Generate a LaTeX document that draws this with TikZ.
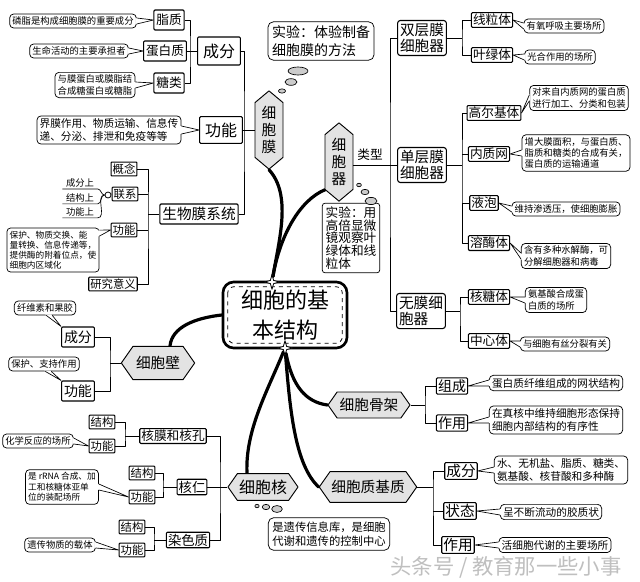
\documentclass[tikz,border=0pt]{standalone}
\usepackage{fontspec}
\setmainfont{Noto Sans CJK SC}
\usetikzlibrary{shapes.symbols,shapes.geometric,calc}
\pgfdeclarelayer{bg}
\pgfsetlayers{bg,main}
\newcommand\fsS{\fontsize{7}{8.4}\selectfont}
\newcommand\fsM{\fontsize{8}{9.6}\selectfont}
\newcommand\fsK{\fontsize{8.5}{10}\selectfont}
\newcommand\fsB{\fontsize{9.5}{11}\selectfont}
\newcommand\fsC{\fontsize{10.5}{12}\selectfont}
\newcommand\fsL{\fontsize{11}{12.8}\selectfont}
\newcommand\fsX{\fontsize{12}{14}\selectfont}
\newcommand\fsT{\fontsize{16.5}{22}\selectfont}
\newcommand{\calltail}[3]{%
  \path ($(#1)!1pt!180:(#3)$) coordinate (pI);
  \fill[white] ($(pI)+(#2)$) -- (#3) -- ($(pI)-(#2)$) -- cycle;
  \draw[line width=0.5pt,line join=round] ($(#1)+(#2)$) -- (#3) -- ($(#1)-(#2)$);}
\tikzset{
  box/.style={draw, line width=0.8pt, fill=white, inner sep=1.8pt, rounded corners=0.8pt, align=center, font=\fsB, minimum height=15pt},
  rbox/.style={box, inner sep=1.2pt, minimum height=0pt},
  sbox/.style={draw, line width=0.8pt, fill=white, inner sep=1.2pt, rounded corners=0.6pt, align=center, font=\fsK},
  cal/.style={draw, line width=0.55pt, fill=white, rounded corners=3pt, inner sep=2pt, align=left, font=\fsS},
  hexh/.style={shape=signal, signal to=west and east, signal pointer angle=110, draw, line width=0.7pt, fill=gray!22, inner sep=1pt, font=\fsL},
  hexv/.style={shape=signal, signal to=north and south, signal pointer angle=100, draw, line width=0.7pt, fill=gray!22, inner sep=1pt, align=center, font=\fsL},
  brk/.style={line width=0.7pt},
  trunk/.style={line width=2.4pt, line cap=round},
  bub/.style={draw, line width=0.5pt, fill=gray!40},
  uline/.style={line width=0.5pt},
}
\begin{document}
\begin{tikzpicture}[x=0.75pt,y=-0.75pt,line join=round]
\useasboundingbox (0,0) rectangle (640,582);

% ---------- cell membrane ----------
\node[cal] (lipc) at (73,21) {磷脂是构成细胞膜的重要成分};
\node[box] (lip) at (169,20) {脂质};
\node[cal] (prc) at (79,51) {生命活动的主要承担者};
\node[box] (pro) at (165,51) {蛋白质};
\node[cal] (sugc) at (95,85) {与膜蛋白或膜脂结\\合成糖蛋白或糖脂};
\node[box] (sug) at (169,83) {糖类};
\node[box, font=\fsX, minimum width=32pt, minimum height=21pt] (mcomp) at (219,51) {成分};
\node[box, font=\fsX, minimum width=32pt, minimum height=20pt] (mfunc) at (221,130) {功能};
\node[cal, font=\fsM] (mfc) at (109,130) {界膜作用、物质运输、信息传\\递、分泌、排泄和免疫等等};
\node[hexv, font=\fontsize{11}{13}\selectfont, minimum width=21pt, minimum height=52pt] (mem) at (269,130) {细\\胞\\膜};
\node[box, font=\fsL] (bms) at (199,214) {生物膜系统};
\node[sbox] (gn) at (124,169) {概念};
\node[sbox] (lx) at (125,194) {联系};
\node[sbox] (gfn) at (124,230) {功能};
\node[cal, font=\fontsize{6.5}{7.6}\selectfont, rounded corners=2.5pt] (gfc) at (53,250) {保护、物质交换、能\\量转换、信息传递等，\\提供酶的附着位点，使\\细胞内区域化};
\node[sbox] (yj) at (113,284) {研究意义};
\node[circle, draw, line width=0.6pt, fill=white, inner sep=0pt, minimum size=4.5pt] (lxc) at (108,195) {};
\node[font=\fsS, inner sep=1pt, minimum width=26pt] (ca) at (80,183) {成分上};
\node[font=\fsS, inner sep=1pt, minimum width=26pt] (cb) at (80,198) {结构上};
\node[font=\fsS, inner sep=1pt, minimum width=26pt] (cc) at (80,212) {功能上};

% experiment 1
\node[cal, font=\fontsize{10.5}{13}\selectfont, rounded corners=4pt, inner sep=3pt] (exp1) at (321,41) {实验：体验制备\\细胞膜的方法};
\draw[bub] (298,71) ellipse [x radius=7.5pt, y radius=3pt];
\draw[bub] (291,82) ellipse [x radius=4.5pt, y radius=2.5pt];
\draw[bub] (282,91) ellipse [x radius=2.7pt, y radius=1.6pt];

% ---------- organelles ----------
\node[hexv, font=\fontsize{11}{13}\selectfont, minimum width=21pt, minimum height=52pt] (org) at (339,162) {细\\胞\\器};
\node[font=\fsB] (lt) at (370,155) {类型};
\node[cal, font=\fontsize{9.5}{9.6}\selectfont, rounded corners=2pt, inner sep=2.5pt] (exp2) at (351,238) {实验：用\\高倍显微\\镜观察叶\\绿体和线\\粒体};
\draw[bub] (371,201) ellipse [x radius=4.5pt, y radius=2.7pt];
\draw[bub] (365,192) ellipse [x radius=3pt, y radius=2pt];
\draw[bub] (359,185) ellipse [x radius=1.8pt, y radius=1.3pt];

\node[box, font=\fontsize{11}{12.5}\selectfont, rounded corners=2pt] (dbl) at (422,38) {双层膜\\细胞器};
\node[box, font=\fontsize{11}{12.5}\selectfont, rounded corners=2pt] (sgl) at (422,165) {单层膜\\细胞器};
\node[box, font=\fontsize{11}{12.5}\selectfont, rounded corners=2pt, align=left] (nom) at (421,311) {无膜细\\胞器};

\node[rbox] (mito) at (492,20) {线粒体};
\node[rbox] (chlo) at (492,55) {叶绿体};
\node[cal] (mitoc) at (564,26) {有氧呼吸主要场所};
\node[cal] (chloc) at (560,57) {光合作用的场所};

\node[rbox] (golgi) at (494,113) {高尔基体};
\node[rbox] (er) at (489,154) {内质网};
\node[rbox] (vac) at (484,203) {液泡};
\node[rbox] (lyso) at (489,243) {溶酶体};
\node[cal] (golgic) at (579,98) {对来自内质网的蛋白质\\进行加工、分类和包装};
\node[cal] (erc) at (576,153) {增大膜面积，与蛋白质、\\脂质和糖类的合成有关，\\蛋白质的运输通道};
\node[cal] (vacc) at (566,209) {维持渗透压，使细胞膨胀};
\node[cal] (lysoc) at (566,256) {含有多种水解酶，可\\分解细胞器和病毒};

\node[rbox] (ribo) at (489,297) {核糖体};
\node[rbox] (cent) at (489,341) {中心体};
\node[cal] (riboc) at (556,300) {氨基酸合成蛋\\白质的场所};
\node[cal] (centc) at (565,344) {与细胞有丝分裂有关};

% ---------- centre ----------
\node[draw, line width=2pt, rounded corners=8pt, fill=white, minimum width=93pt, minimum height=49.5pt, align=center, font=\fsT] (cen) at (285,315) {细胞的基\\本结构};
\draw[dashed, line width=0.6pt, rounded corners=5pt] ($(cen.north west)+(6,6)$) rectangle ($(cen.south east)+(-6,-6)$);
\node[star, star points=4, star point ratio=3.2, draw, line width=0.6pt, fill=white, inner sep=0pt, minimum size=11pt] (st1) at (272,282) {};
\node[star, star points=4, star point ratio=3.2, draw, line width=0.6pt, fill=white, inner sep=0pt, minimum size=11pt] (st2) at (285,348) {};

% ---------- cell wall ----------
\node[hexh, minimum width=55pt, minimum height=25pt] (wall) at (158,363) {细胞壁};
\node[box, font=\fsC] (wc) at (78,337) {成分};
\node[box, font=\fsC] (wf) at (78,391) {功能};
\node[cal] (wcc) at (45,308) {纤维素和果胶};
\node[cal] (wfc) at (44,364) {保护、支持作用};

% ---------- cytoskeleton ----------
\node[hexh, minimum width=61.5pt, minimum height=19.5pt] (csk) at (369,405) {细胞骨架};
\node[rbox, font=\fsC] (ck1) at (452,386) {组成};
\node[rbox, font=\fsC] (ck2) at (452,423) {作用};
\node[cal, font=\fsM] (ck1c) at (556,383) {蛋白质纤维组成的网状结构};
\node[cal, font=\fsM] (ck2c) at (556,420) {在真核中维持细胞形态保持\\细胞内部结构的有序性};

% ---------- cytoplasmic matrix ----------
\node[hexh, minimum width=73pt, minimum height=23pt] (mat) at (368,487) {细胞质基质};
\node[rbox, font=\fsL] (m1) at (461,471) {成分};
\node[rbox, font=\fsL] (m2) at (460,511) {状态};
\node[rbox, font=\fsL] (m3) at (458,545) {作用};
\node[cal, font=\fsM] (m1c) at (561,470) {水、无机盐、脂质、糖类、\\氨基酸、核苷酸和多种酶};
\node[cal, font=\fsM] (m2c) at (551,512) {呈不断流动的胶质状};
\node[cal, font=\fsM] (m3c) at (555,545) {活细胞代谢的主要场所};

% ---------- nucleus ----------
\node[hexh, minimum width=52.5pt, minimum height=20pt, font=\fsX] (nuc) at (263,487) {细胞核};
\draw[bub] (257,506) ellipse [x radius=1.6pt, y radius=1.3pt];
\draw[bub] (266,507) ellipse [x radius=2.8pt, y radius=2pt];
\draw[bub] (277,509) ellipse [x radius=4pt, y radius=2.6pt];
\node[cal, font=\fontsize{8.5}{10.5}\selectfont, rounded corners=4pt, inner sep=3pt] (nucc) at (329,534) {是遗传信息库，是细胞\\代谢和遗传的控制中心};
\node[rbox] (nm) at (173,436) {核膜和核孔};
\node[rbox, font=\fontsize{10}{12}\selectfont] (nl) at (192,487) {核仁};
\node[rbox, font=\fontsize{10}{12}\selectfont] (cr) at (188,540) {染色质};
\node[sbox] (nm1) at (102,422) {结构};
\node[sbox] (nm2) at (102,446) {功能};
\node[sbox] (nl1) at (142,473) {结构};
\node[sbox] (nl2) at (142,497) {功能};
\node[sbox] (cr1) at (132,527) {结构};
\node[sbox] (cr2) at (132,550) {功能};
\node[cal] (nmc) at (38,441) {化学反应的场所};
\node[cal, font=\fontsize{6.5}{8}\selectfont] (nlc) at (62,487) {是 rRNA 合成、加\\工和核糖体亚单\\位的装配场所};
\node[cal] (crc) at (60,545) {遗传物质的载体};

% watermark
\node[font=\fontsize{16}{18}\selectfont, text=gray!50, inner sep=0pt] (wm) at (506,567) {头条号 / 教育那一些小事};

% ---------- brackets ----------
\coordinate (s1) at (190,51);
\draw[brk] (lip.east) -| (s1) |- (sug.east);
\draw[brk] (pro.east) -- (mcomp.west);
\coordinate (s2) at (244,130);
\draw[brk] (mcomp.east) -| (s2) |- (bms.east);
\draw[brk] (mfunc.east) -- (mem.west);
\coordinate (s3) at (148,214);
\draw[brk] (gn.east) -| (s3) |- (yj.east);
\draw[brk] (s3) -- (bms.west);
\draw[brk] (lx.east) -- (lx.east -| s3);
\draw[brk] (gfn.east) -- (gfn.east -| s3);
\draw[brk] (lxc) -- (lx.west);
\draw[uline] (ca.south west) -- (ca.south east) to[out=0,in=180] (lxc.west);
\draw[uline] (cb.south west) -- (cb.south east) to[out=0,in=180] (lxc.west);
\draw[uline] (cc.south west) -- (cc.south east) to[out=0,in=180] (lxc.west);

\coordinate (s4) at (390,165);
\draw[brk] (dbl.west) -| (s4) |- (nom.west);
\draw[brk] (org.east |- sgl.west) -- (sgl.west);
\coordinate (s5) at (462,38);
\draw[brk] (mito.west) -| (s5) |- (chlo.west);
\draw[brk] (dbl.east) -- (s5);
\coordinate (s6) at (462,165);
\draw[brk] (golgi.west) -| (s6) |- (lyso.west);
\draw[brk] (sgl.east) -- (s6);
\draw[brk] (er.west) -- (er.west -| s6);
\draw[brk] (vac.west) -- (vac.west -| s6);
\coordinate (s7) at (460,311);
\draw[brk] (ribo.west) -| (s7) |- (cent.west);
\draw[brk] (nom.east) -- (s7);

\coordinate (s8) at (110,363);
\draw[brk] (wc.east) -| (s8) |- (wf.east);
\draw[brk] (s8) -- (wall.west);
\coordinate (s9) at (425,405);
\draw[brk] (ck1.west) -| (s9) |- (ck2.west);
\draw[brk] (csk.east) -- (s9);
\coordinate (s10) at (433,487);
\draw[brk] (m1.west) -| (s10) |- (m3.west);
\draw[brk] (mat.east) -- (s10);
\draw[brk] (m2.west) -- (m2.west -| s10);

\coordinate (s11) at (220,487);
\draw[brk] (nm.east) -| (s11) |- (cr.east);
\draw[brk] (nuc.west) -- (s11);
\draw[brk] (nl.east) -- (nl.east -| s11);
\coordinate (s12) at (125,436);
\draw[brk] (nm1.east) -| (s12) |- (nm2.east);
\draw[brk] (s12) -- (nm.west);
\coordinate (s13) at (163,487);
\draw[brk] (nl1.east) -| (s13) |- (nl2.east);
\draw[brk] (s13) -- (nl.west);
\coordinate (s14) at (154,540);
\draw[brk] (cr1.east) -| (s14) |- (cr2.east);
\draw[brk] (s14) -- (cr.west);

% ---------- callout tails ----------
\calltail{lipc.east}{0,3}{lip.west}
\calltail{prc.east}{0,3}{pro.west}
\calltail{sugc.east}{0,3}{sug.west}
\calltail{mfc.east}{0,4}{mfunc.west}
\calltail{gfc.20}{0,3}{gfn.west}
\calltail{wcc.-60}{3,0}{wc.north west}
\calltail{wfc.-60}{3,0}{wf.north west}
\calltail{mitoc.west}{0,3}{mito.east}
\calltail{chloc.west}{0,3}{chlo.east}
\calltail{golgic.west}{0,3}{golgi.east}
\calltail{erc.west}{0,3}{er.east}
\calltail{vacc.west}{0,3}{vac.east}
\calltail{lysoc.west}{0,3}{lyso.east}
\calltail{riboc.west}{0,3}{ribo.east}
\calltail{centc.west}{0,3}{cent.east}
\calltail{ck1c.west}{0,3}{ck1.east}
\calltail{ck2c.west}{0,3}{ck2.east}
\calltail{m1c.west}{0,3}{m1.east}
\calltail{m2c.west}{0,3}{m2.east}
\calltail{m3c.west}{0,3}{m3.east}
\calltail{nmc.east}{0,3}{nm2.west}
\calltail{nlc.east}{0,3}{nl2.west}
\calltail{crc.east}{0,3}{cr2.west}

% ---------- trunks ----------
\begin{pgfonlayer}{bg}
\fill[white] (0,0) rectangle (640,582);
\draw[trunk] (st1) .. controls (279,240) and (292,195) .. (mem.south);
\draw[trunk] (st1) .. controls (280,235) and (300,200) .. ($(org.south)+(-14,-12)$);
\draw[trunk] (cen.west) .. controls (195,318) and (172,327) .. ($(wall.north)+(12,0)$);
\draw[trunk] (st2) .. controls (292,385) and (305,402) .. (csk.west);
\draw[trunk] (st2) .. controls (290,410) and (295,465) .. (mat.west);
\draw[trunk] (st2) .. controls (268,390) and (245,430) .. ($(nuc.north)+(-16,0)$);
\end{pgfonlayer}
\end{tikzpicture}
\end{document}
